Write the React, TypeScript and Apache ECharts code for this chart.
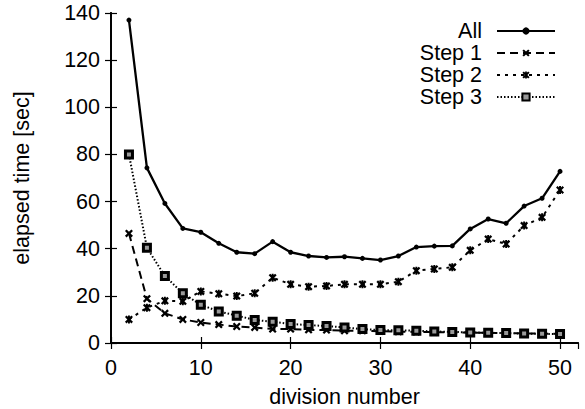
import React, { useEffect, useRef } from "react";
import * as echarts from "echarts";

const divisions = [2, 4, 6, 8, 10, 12, 14, 16, 18, 20, 22, 24, 26, 28, 30, 32, 34, 36, 38, 40, 42, 44, 46, 48, 50];
const allValues = [137, 74.3, 59.2, 48.6, 47.0, 42.3, 38.5, 37.9, 43.0, 38.5, 36.9, 36.3, 36.6, 35.9, 35.2, 36.9, 40.7, 41.1, 41.2, 48.4, 52.6, 50.8, 58.1, 61.4, 72.8];
const step1Values = [46.5, 18.8, 12.6, 10.0, 8.7, 7.8, 7.0, 6.6, 5.9, 5.9, 5.6, 5.5, 5.2, 5.2, 5.0, 4.8, 4.7, 4.6, 4.5, 4.4, 4.3, 4.2, 4.1, 4.0, 3.8];
const step2Values = [10.0, 15.0, 17.9, 17.7, 21.9, 20.9, 19.9, 21.1, 27.7, 24.9, 23.9, 24.2, 24.9, 24.9, 24.9, 26.0, 30.7, 31.4, 32.1, 39.3, 44.1, 42.0, 49.8, 53.3, 64.9];
const step3Values = [80.0, 40.4, 28.4, 21.1, 16.2, 13.4, 11.6, 9.8, 9.0, 8.1, 7.6, 7.2, 6.6, 5.9, 5.5, 5.4, 5.2, 4.9, 4.7, 4.5, 4.3, 4.2, 4.0, 3.9, 3.8];
const seriesNames = ["All", "Step 1", "Step 2", "Step 3"];
const xTitle = "division number";
const yTitle = "elapsed time [sec]";

const FONT = "Liberation Sans";
const FS = 21.5;

const crossPath =
  "path://M0,2 L2,0 L5,3 L8,0 L10,2 L7,5 L10,8 L8,10 L5,7 L2,10 L0,8 L3,5 Z";
const starPath =
  "path://M0,2 L2,0 L5,3 L8,0 L10,2 L7,5 L10,8 L8,10 L5,7 L2,10 L0,8 L3,5 Z M3.8,0 L6.2,0 L6.2,10 L3.8,10 Z";

function pairs(vals: number[]) {
  return divisions.map((d, i) => [d, vals[i]]);
}

export default function App() {
  const ref = useRef<HTMLDivElement>(null);
  useEffect(() => {
    if (!ref.current) return;
    const chart = echarts.init(ref.current, null, { renderer: "svg" });
    const axisLine = { show: true, lineStyle: { color: "#000", width: 1.8 } };
    const tickInside = { show: true, inside: true, length: 6, lineStyle: { color: "#000", width: 1.2 } };
    const base = {
      type: "line" as const,
      symbolKeepAspect: true,
      itemStyle: { color: "#000" },
      emphasis: { disabled: true },
    };
    chart.setOption({
      animation: false,
      backgroundColor: "#fff",
      textStyle: { fontFamily: FONT },
      grid: { left: 111, right: 7, top: 13, bottom: 66, containLabel: false, outerBoundsMode: "none" },
      legend: {
        orient: "vertical",
        right: 24,
        top: 15,
        align: "right",
        itemWidth: 58,
        itemHeight: 9,
        itemGap: 0,
        textStyle: { fontFamily: FONT, fontSize: FS, color: "#000", padding: [0, 10, 0, 0] },
        data: seriesNames,
      },
      xAxis: [
        {
          type: "value",
          min: 0,
          max: 52,
          interval: 10,
          name: xTitle,
          nameLocation: "middle",
          nameGap: 43,
          nameTextStyle: { fontFamily: FONT, fontSize: FS, color: "#000" },
          axisLine,
          axisTick: tickInside,
          splitLine: { show: false },
          axisLabel: { fontFamily: FONT, fontSize: FS, color: "#000", margin: 14, showMaxLabel: false },
        },
        {
          type: "value",
          position: "top",
          min: 0,
          max: 52,
          interval: 10,
          axisLine,
          axisTick: tickInside,
          splitLine: { show: false },
          axisLabel: { show: false },
        },
      ],
      yAxis: [
        {
          type: "value",
          min: 0,
          max: 140,
          interval: 20,
          name: yTitle,
          nameLocation: "middle",
          nameGap: 78,
          nameTextStyle: { fontFamily: FONT, fontSize: FS, color: "#000" },
          axisLine,
          axisTick: tickInside,
          splitLine: { show: false },
          axisLabel: { fontFamily: FONT, fontSize: FS, color: "#000", margin: 11 },
        },
        {
          type: "value",
          position: "right",
          min: 0,
          max: 140,
          interval: 20,
          axisLine,
          axisTick: tickInside,
          splitLine: { show: false },
          axisLabel: { show: false },
        },
      ],
      series: [
        {
          ...base,
          name: seriesNames[0],
          data: pairs(allValues),
          symbol: "circle",
          symbolSize: 5,
          lineStyle: { color: "#000", width: 2.3, type: "solid" },
        },
        {
          ...base,
          name: seriesNames[1],
          data: pairs(step1Values),
          symbol: crossPath,
          symbolSize: 8,
          lineStyle: { color: "#000", width: 2, type: [8, 5] },
        },
        {
          ...base,
          name: seriesNames[2],
          data: pairs(step2Values),
          symbol: starPath,
          symbolSize: 8,
          lineStyle: { color: "#000", width: 2, type: [3, 5] },
        },
        {
          ...base,
          name: seriesNames[3],
          data: pairs(step3Values),
          symbol: "rect",
          symbolSize: 7,
          itemStyle: { color: "#999", borderColor: "#000", borderWidth: 3 },
          lineStyle: { color: "#000", width: 2, type: [1.5, 2] },
        },
      ],
    });
    return () => chart.dispose();
  }, []);
  return <div ref={ref} style={{ width: 585, height: 409, position: "absolute", left: 0, top: 0 }} />;
}
